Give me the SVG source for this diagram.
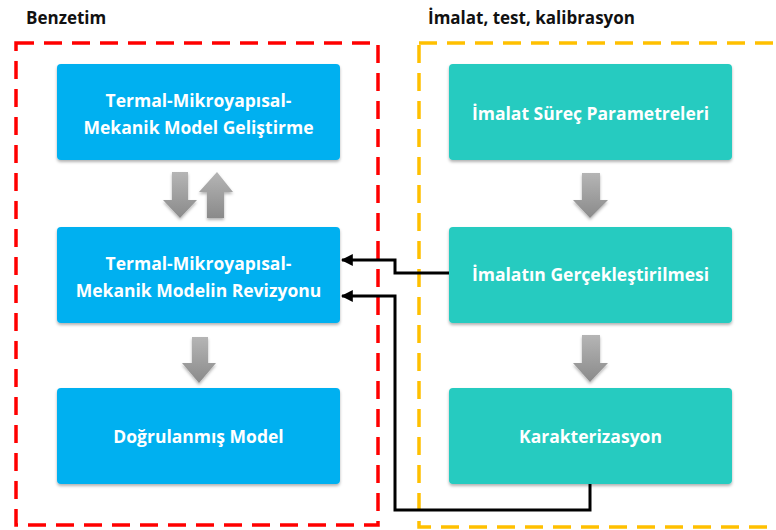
<svg xmlns="http://www.w3.org/2000/svg" width="776" height="530" viewBox="0 0 776 530">
<style>
.hd{font-family:"Open Sans","Liberation Sans",sans-serif;font-weight:bold;font-size:17px;fill:#111}
.bt{font-family:"Open Sans","Liberation Sans",sans-serif;font-weight:bold;font-size:17.5px;fill:#fff;text-anchor:middle}
.blue{fill:#00B0F0;filter:url(#sh)}
.teal{fill:#26CBC0;filter:url(#sh)}
.ga{fill:url(#gg);filter:url(#sh)}
.con{fill:none;stroke:#000;stroke-width:3}
</style>
<defs>
<filter id="sh" x="-10%" y="-10%" width="120%" height="130%">
<feDropShadow dx="0" dy="2" stdDeviation="1.5" flood-color="#000" flood-opacity="0.3"/>
</filter>
<linearGradient id="gg" x1="0" y1="0" x2="0" y2="1">
<stop offset="0" stop-color="#b5b5b5"/>
<stop offset="1" stop-color="#8a8a8a"/>
</linearGradient>
<marker id="ah" viewBox="0 0 10 10" refX="9" refY="5" markerWidth="4" markerHeight="4" orient="auto" markerUnits="strokeWidth">
<path d="M0,0 L10,5 L0,10 z" fill="#000"/>
</marker>
</defs>
<rect width="776" height="530" fill="#fff"/>
<text class="hd" x="26" y="24">Benzetim</text>
<text class="hd" x="428" y="24">İmalat, test, kalibrasyon</text>
<rect x="16" y="43" width="362" height="482" fill="none" stroke="#FF0000" stroke-width="3.5" stroke-dasharray="18,10"/>
<rect x="419" y="43" width="380" height="484" fill="none" stroke="#FFC000" stroke-width="3.5" stroke-dasharray="18,10"/>
<g id="arrows">
<path class="ga" d="M172,172 H188 V200 H197 L180,218 L163,200 H172 Z"/>
<path class="ga" d="M217,172 L233,192 H224 V218 H207 V192 H199 Z"/>
<path class="ga" d="M192,337 H208 V363 H216 L199,383 L182,363 H192 Z"/>
<path class="ga" d="M582,173 H600 V200 H608 L590,218 L573,200 H582 Z"/>
<path class="ga" d="M582,335 H600 V363 H608 L590,382 L573,363 H582 Z"/>
</g>
<g id="n1"><rect class="blue" x="57" y="64" width="283" height="96" rx="4"/>
<text class="bt" x="198.5" y="107">Termal-Mikroyapısal-</text>
<text class="bt" x="198.5" y="134">Mekanik Model Geliştirme</text></g>
<g id="n2"><rect class="blue" x="57" y="227" width="283" height="96" rx="4"/>
<text class="bt" x="198.5" y="270">Termal-Mikroyapısal-</text>
<text class="bt" x="198.5" y="297">Mekanik Modelin Revizyonu</text></g>
<g id="n3"><rect class="blue" x="57" y="388" width="283" height="96" rx="4"/>
<text class="bt" x="198.5" y="443">Doğrulanmış Model</text></g>
<g id="n4"><rect class="teal" x="449" y="64" width="283" height="96" rx="4"/>
<text class="bt" x="590.5" y="120">İmalat Süreç Parametreleri</text></g>
<g id="n5"><rect class="teal" x="449" y="227" width="283" height="96" rx="4"/>
<text class="bt" x="590.5" y="281">İmalatın Gerçekleştirilmesi</text></g>
<g id="n6"><rect class="teal" x="449" y="388" width="283" height="96" rx="4"/>
<text class="bt" x="590.5" y="443">Karakterizasyon</text></g>
<g id="connectors">
<path class="con" d="M449,273 H395 V260 H342" marker-end="url(#ah)"/>
<path class="con" d="M590,484 V510 H395 V296 H342" marker-end="url(#ah)"/>
</g>
</svg>
